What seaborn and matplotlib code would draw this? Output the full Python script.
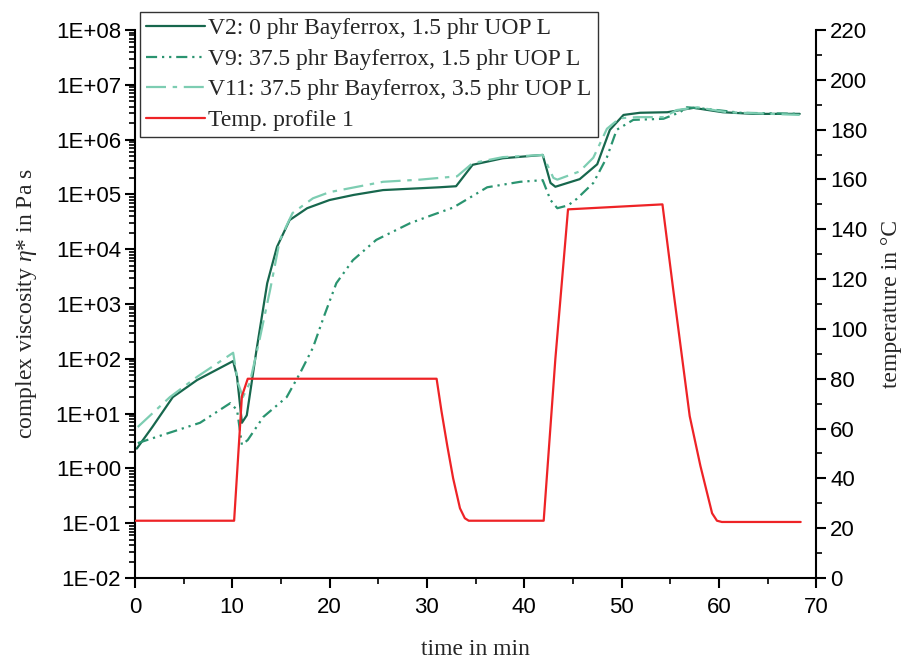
import numpy as np
import pandas as pd
import matplotlib
matplotlib.use("Agg")
import matplotlib.pyplot as plt
import matplotlib.ticker as mticker
import seaborn as sns

# ---- data ----
v2_t = [0.2, 1.8, 3.9, 6.4, 10.1, 10.5, 11.0, 11.5, 12.5, 13.6, 14.6, 15.9, 17.7, 20.0, 22.5,
        25.5, 31.3, 33.0, 34.7, 37.8, 41.9, 42.7, 43.2, 45.7, 47.5, 48.8, 50.2, 51.9, 54.7,
        57.4, 60.4, 63.5, 68.3]
v2_eta = [2.3, 5.7, 20, 41, 91, 47, 6.8, 9.3, 145, 2400, 11000, 34000, 56000, 79000, 98000,
          120000, 135000, 141000, 347000, 457000, 525000, 162000, 138000, 190000, 355000,
          1.51e6, 2.82e6, 3.09e6, 3.16e6, 3.8e6, 3.16e6, 2.95e6, 2.95e6]

v9_t = [0.3, 3.6, 6.7, 9.8, 10.5, 11.0, 11.6, 13.2, 15.6, 17.0, 18.3, 19.4, 20.7, 22.4, 24.8,
        28.3, 30.5, 32.7, 36.2, 39.6, 41.9, 42.7, 43.4, 44.5, 45.4, 47.1, 48.5, 49.5, 51.2,
        54.3, 56.0, 56.7, 58.8, 62.2, 68.3]
v9_eta = [2.9, 4.5, 6.8, 15.5, 11.7, 2.7, 3.3, 8.7, 20, 56, 160, 575, 2400, 6300, 14800,
          30000, 41700, 57500, 135000, 170000, 182000, 79000, 56000, 63000, 83000, 162000,
          479000, 1.51e6, 2.29e6, 2.4e6, 3.16e6, 3.89e6, 3.63e6, 3.09e6, 2.95e6]

v11_t = [0.3, 3.6, 6.4, 10.1, 10.6, 11.1, 11.8, 12.8, 13.9, 14.9, 16.2, 18.3, 20.0, 25.5, 29.3,
         33.1, 34.7, 37.8, 41.9, 43.0, 43.4, 45.7, 47.1, 48.5, 49.8, 51.6, 54.3, 55.7, 57.8,
         60.8, 68.3]
v11_eta = [5.7, 20, 47, 129, 36, 20, 36, 219, 1820, 14800, 45700, 85000, 110000, 170000,
           186000, 214000, 372000, 479000, 525000, 200000, 186000, 263000, 468000, 1.58e6,
           2.45e6, 2.57e6, 2.57e6, 3.47e6, 3.89e6, 3.16e6, 2.82e6]

temp_t = [0.1, 10.2, 11.0, 11.6, 31.0, 31.5, 32.1, 32.7, 33.4, 33.9, 34.3, 42.0, 43.2, 44.5,
          54.2, 55.3, 56.2, 57.0, 58.1, 59.3, 59.8, 60.3, 68.4]
temp_c = [23, 23, 73, 80, 80, 67, 53, 40, 28, 24, 23, 23, 88, 148, 150, 116, 89, 65, 45, 26,
          23, 22.5, 22.5]

labels = ["V2: 0 phr Bayferrox, 1.5 phr UOP L",
          "V9: 37.5 phr Bayferrox, 1.5 phr UOP L",
          "V11: 37.5 phr Bayferrox, 3.5 phr UOP L",
          "Temp. profile 1"]

# ---- style ----
sns.set_style("ticks")
plt.rcParams["font.family"] = ["Liberation Sans", "DejaVu Sans"]
plt.rcParams["mathtext.fontset"] = "custom"
plt.rcParams["mathtext.it"] = "Liberation Serif:italic"
plt.rcParams["mathtext.rm"] = "Liberation Serif"
serif = ["Liberation Serif", "DejaVu Serif"]

c_v2 = "#17674d"
c_v9 = "#2a9470"
c_v11 = "#7dcdb2"
c_red = "#ee2326"

fig = plt.figure(figsize=(9.11, 6.64), dpi=100)
ax = fig.add_axes([0.148, 0.1295, 0.748, 0.8253])
ax2 = ax.twinx()

lw = 1.6
sns.lineplot(x=v2_t, y=v2_eta, ax=ax, color=c_v2, lw=lw, sort=False, estimator=None,
             label=labels[0], legend=False)
sns.lineplot(x=v9_t, y=v9_eta, ax=ax, color=c_v9, lw=lw, sort=False, estimator=None,
             label=labels[1], legend=False, linestyle=(0, (5, 2.2, 1, 2.2, 1, 2.2)))
sns.lineplot(x=v11_t, y=v11_eta, ax=ax, color=c_v11, lw=lw, sort=False, estimator=None,
             label=labels[2], legend=False, linestyle=(0, (9, 3, 2, 3)))
sns.lineplot(x=temp_t, y=temp_c, ax=ax2, color=c_red, lw=lw, sort=False, estimator=None,
             label=labels[3], legend=False)

ax.set_yscale("log")
ax.set_ylim(1e-2, 1e8)
ax.set_xlim(0, 70)
ax2.set_ylim(0, 220)

ax.yaxis.set_major_locator(mticker.LogLocator(base=10, numticks=20))
ax.yaxis.set_minor_locator(mticker.LogLocator(base=10, subs=np.arange(2, 10), numticks=20))
ax.yaxis.set_minor_formatter(mticker.NullFormatter())
ax.yaxis.set_major_formatter(mticker.FuncFormatter(
    lambda v, p: "1E{:+03d}".format(int(round(np.log10(v))))))
ax.xaxis.set_major_locator(mticker.MultipleLocator(10))
ax.xaxis.set_minor_locator(mticker.MultipleLocator(5))
ax2.yaxis.set_major_locator(mticker.MultipleLocator(20))
ax2.yaxis.set_minor_locator(mticker.MultipleLocator(10))

for a in (ax, ax2):
    a.spines["top"].set_visible(False)
    for s in a.spines.values():
        s.set_linewidth(1.5)
        s.set_color("black")
    a.tick_params(which="major", direction="out", length=7, width=1.5, labelsize=16,
                  color="black", labelcolor="black")
    a.tick_params(which="minor", direction="out", length=4, width=1.2, color="black")
ax2.spines["left"].set_visible(False)
ax2.spines["bottom"].set_visible(False)
ax.spines["right"].set_visible(False)
ax.tick_params(axis="x", pad=7)
ax.tick_params(axis="y", pad=3)
ax2.tick_params(axis="y", pad=3)

ax.set_xlabel("time in min", family=serif, fontsize=17, labelpad=15)
ax.set_ylabel(r"complex viscosity $\eta$* in Pa s", family=serif, fontsize=17, labelpad=12)
ax2.set_ylabel("temperature in °C", family=serif, fontsize=17, labelpad=10)

handles = ax.get_lines()[:3] + ax2.get_lines()[:1]
leg = fig.legend(handles, labels, loc="upper left", bbox_to_anchor=(0.1537, 0.982),
                 bbox_transform=fig.transFigure, borderaxespad=0, frameon=True,
                 fancybox=False, prop={"family": serif, "size": 17}, handlelength=2.5,
                 handletextpad=0.15, labelspacing=0.38, borderpad=0.25)
leg.get_frame().set_edgecolor("black")
leg.get_frame().set_linewidth(1.0)
leg.set_zorder(10)

fig.savefig("out.png", dpi=100)
